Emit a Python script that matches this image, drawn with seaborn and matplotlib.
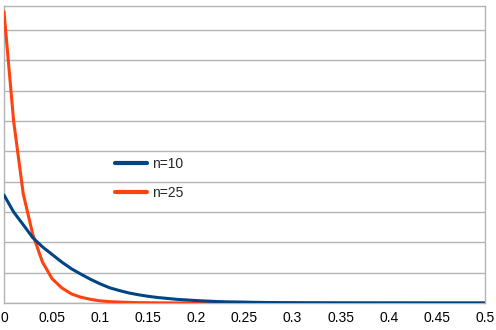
import matplotlib
matplotlib.use("Agg")
import matplotlib.pyplot as plt
import numpy as np
import pandas as pd
import seaborn as sns

# x positions of the samples
x_vals = [round(0.01 * i, 2) for i in range(51)]

# density curves for the two sample sizes
n10 = [3.56, 3.00, 2.58, 2.15, 1.85, 1.60, 1.35, 1.13, 0.95, 0.78,
       0.63, 0.50, 0.41, 0.33, 0.27, 0.22, 0.18, 0.15, 0.12, 0.10,
       0.08, 0.065, 0.05, 0.04, 0.035, 0.03, 0.022, 0.018, 0.015, 0.012,
       0.010, 0.008, 0.006, 0.005, 0.004, 0.003, 0.003, 0.002, 0.002, 0.001,
       0.001, 0.001, 0.001, 0.0, 0.0, 0.0, 0.0, 0.0, 0.0, 0.0, 0.0]
n25 = [9.60, 6.00, 3.60, 2.25, 1.35, 0.80, 0.50, 0.30, 0.19, 0.12,
       0.07, 0.045, 0.03, 0.02, 0.012, 0.008, 0.005, 0.004, 0.003, 0.002,
       0.001, 0.001, 0.0, 0.0, 0.0, 0.0, 0.0, 0.0, 0.0, 0.0,
       0.0, 0.0, 0.0, 0.0, 0.0, 0.0, 0.0, 0.0, 0.0, 0.0,
       0.0, 0.0, 0.0, 0.0, 0.0, 0.0, 0.0, 0.0, 0.0, 0.0, 0.0]
series_names = ["n=10", "n=25"]
series_colors = ["#004586", "#ff420e"]
x_ticks = [0, 0.05, 0.1, 0.15, 0.2, 0.25, 0.3, 0.35, 0.4, 0.45, 0.5]
x_tick_labels = ["0", "0.05", "0.1", "0.15", "0.2", "0.25", "0.3", "0.35", "0.4", "0.45", "0.5"]

df = pd.DataFrame({
    "x": x_vals * 2,
    "y": n10 + n25,
    "series": [series_names[0]] * len(x_vals) + [series_names[1]] * len(x_vals),
})

sns.set_style("white")
plt.rcParams["font.family"] = ["Liberation Sans", "DejaVu Sans"]

fig = plt.figure(figsize=(4.96, 3.30), dpi=100)
ax = fig.add_axes([4 / 496, 1 - 303 / 330, 481 / 496, 297 / 330])

sns.lineplot(data=df, x="x", y="y", hue="series",
             palette=dict(zip(series_names, series_colors)),
             linewidth=2.2, ax=ax, legend=True)

# keep the n=10 curve on top of the n=25 one
lines = ax.get_lines()
if len(lines) >= 2:
    lines[0].set_zorder(4)
    lines[1].set_zorder(3)

ax.set_xlim(0, 0.5)
ax.set_ylim(0, 9.79)
ax.set_xticks(x_ticks)
ax.set_xticklabels(x_tick_labels)
ax.set_yticks(range(0, 10))
ax.set_yticklabels([])
ax.set_xlabel("")
ax.set_ylabel("")
ax.tick_params(axis="x", length=4, width=1, color="#b3b3b3", labelsize=10,
               pad=2, labelcolor="black")
ax.tick_params(axis="y", length=4, width=1, color="#b3b3b3")
ax.grid(axis="y", color="#b3b3b3", linewidth=1)
ax.set_axisbelow(True)
for side in ["left", "bottom", "right", "top"]:
    ax.spines[side].set_visible(True)
    ax.spines[side].set_color("#b3b3b3")
    ax.spines[side].set_linewidth(1)

leg = ax.legend(loc="upper left", bbox_to_anchor=(0.231, 0.491),
                frameon=False, fontsize=10, handlelength=2.3,
                handletextpad=0.35, labelspacing=1.05, borderpad=0,
                borderaxespad=0)
for h in leg.get_lines():
    h.set_linewidth(3)

fig.savefig("out.png", dpi=100)
